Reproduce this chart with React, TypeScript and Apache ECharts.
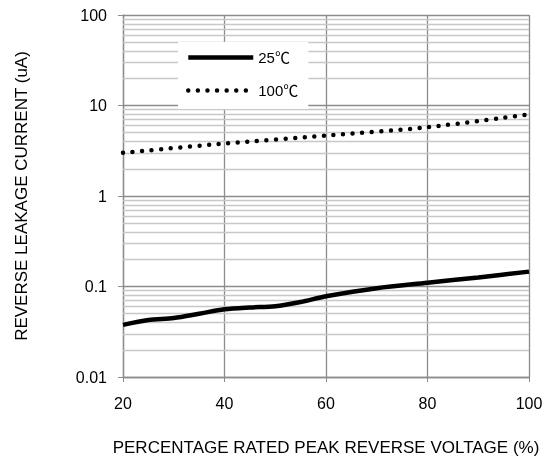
import React, { useEffect, useRef } from "react";
import * as echarts from "echarts";

const xValues = [20, 25, 30, 35, 40, 45, 50, 55, 60, 70, 80, 90, 100];
const current25 = [0.0377, 0.0427, 0.0449, 0.05, 0.056, 0.0587, 0.0605, 0.0675, 0.078, 0.0958, 0.11, 0.126, 0.146];
const x100 = [20, 40, 60, 80, 100];
const current100 = [3.0, 3.8, 4.64, 5.76, 7.98];
const minorGrid = [
  0.02, 0.03, 0.04, 0.05, 0.06, 0.07, 0.08, 0.09,
  0.2, 0.3, 0.4, 0.5, 0.6, 0.7, 0.8, 0.9,
  2, 3, 4, 5, 6, 7, 8, 9,
  20, 30, 40, 50, 60, 70, 80, 90,
];
const yTickLabels: Record<string, string> = { "0.01": "0.01", "0.1": "0.1", "1": "1", "10": "10", "100": "100" };

const FONT = "'Liberation Sans', Arial, 'Noto Sans CJK SC', sans-serif";

export default function App() {
  const ref = useRef<HTMLDivElement>(null);
  useEffect(() => {
    if (!ref.current) return;
    const chart = echarts.init(ref.current, null, { renderer: "svg" });
    chart.setOption({
      animation: false,
      textStyle: { fontFamily: FONT },
      grid: { left: 123, right: 29, top: 15, bottom: 78, containLabel: false },
      legend: {
        left: 178,
        top: 42,
        orient: "vertical",
        backgroundColor: "#ffffff",
        padding: [8, 10, 11, 8],
        itemWidth: 65,
        itemHeight: 14,
        itemGap: 18,
        itemStyle: { opacity: 0 },
        lineStyle: { width: "inherit", type: "inherit", cap: "inherit", opacity: 1 },
        textStyle: { fontSize: 15, color: "#000", fontFamily: FONT },
        data: ["25℃", "100℃"],
      },
      xAxis: {
        type: "value",
        min: 20,
        max: 100,
        interval: 20,
        name: "PERCENTAGE RATED PEAK REVERSE VOLTAGE (%)",
        nameLocation: "middle",
        nameGap: 62,
        nameTextStyle: { fontSize: 17, color: "#000" },
        axisLine: { show: true, lineStyle: { color: "#8c8c8c", width: 1.3 } },
        axisTick: { show: true, length: 5, lineStyle: { color: "#8c8c8c" } },
        axisLabel: { fontSize: 16, color: "#000", margin: 18, fontFamily: FONT },
        splitLine: { show: true, lineStyle: { color: "#8c8c8c", width: 1.3 } },
      },
      yAxis: {
        type: "log",
        logBase: 10,
        min: 0.01,
        max: 100,
        name: "REVERSE LEAKAGE CURRENT (uA)",
        nameLocation: "middle",
        nameGap: 93,
        nameTextStyle: { fontSize: 17, color: "#000" },
        axisLine: { show: true, lineStyle: { color: "#8c8c8c", width: 1.3 } },
        axisTick: { show: true, length: 5, lineStyle: { color: "#8c8c8c" } },
        axisLabel: {
          fontSize: 16,
          color: "#000",
          margin: 16,
          fontFamily: FONT,
          formatter: (v: number) => {
            const k = String(+v.toPrecision(3));
            return yTickLabels[k] ?? k;
          },
        },
        splitLine: { show: true, lineStyle: { color: "#8c8c8c", width: 1.3 } },
      },
      series: [
        {
          name: "25℃",
          type: "line",
          data: xValues.map((x, i) => [x, current25[i]]),
          smooth: 0.3,
          symbol: "none",
          lineStyle: { color: "#000", width: 4.5 },
          itemStyle: { color: "#000" },
          z: 5,
          markLine: {
            silent: true,
            symbol: ["none", "none"],
            label: { show: false },
            lineStyle: { color: "#c8c8c8", type: "solid", width: 1.3 },
            data: minorGrid.map((v) => ({ yAxis: v })),
            z: 1,
          },
        },
        {
          name: "100℃",
          type: "line",
          data: x100.map((x, i) => [x, current100[i]]),
          smooth: 0.3,
          symbol: "none",
          lineStyle: { color: "#000", width: 4.5, type: [0, 9.6], cap: "round" },
          itemStyle: { color: "#000" },
          z: 5,
        },
      ],
    });
    return () => chart.dispose();
  }, []);
  return <div ref={ref} style={{ position: "fixed", left: 0, top: 0, width: 558, height: 461 }} />;
}
